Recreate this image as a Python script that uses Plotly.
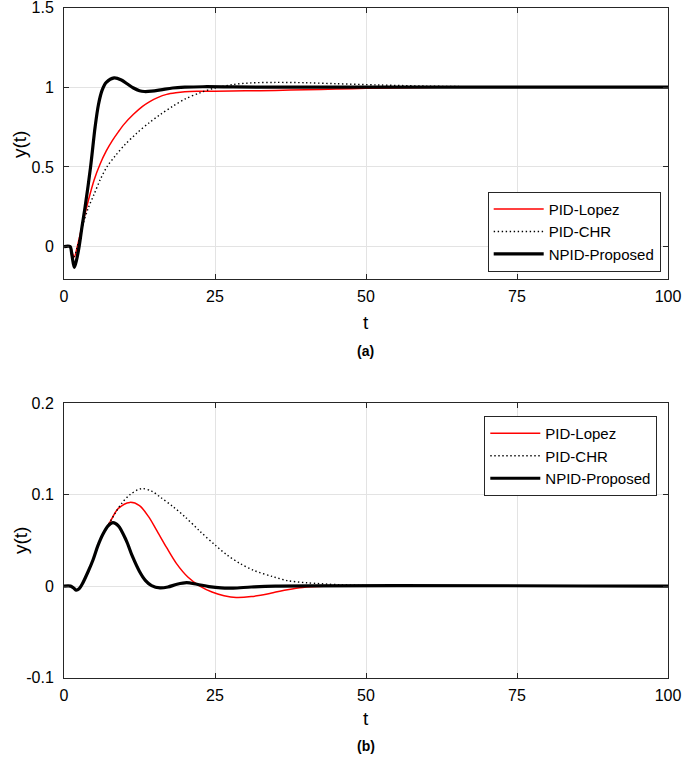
import plotly.graph_objects as go

# ---------------- Data (a): setpoint response ----------------
t_lopez_a = [0, 1.0, 1.3, 1.7, 2.2, 3.0, 4.0, 5.0, 6.0, 7.0, 8.0, 9.0, 10.0, 11.5, 13.0, 14.2, 15.5, 17.0, 18.5, 20.0, 22.0, 25, 30, 35, 40, 45, 50, 56, 62, 70, 100]
y_lopez_a = [0, 0, -0.03, -0.065, 0, 0.13, 0.285, 0.42, 0.52, 0.60, 0.665, 0.72, 0.77, 0.83, 0.88, 0.91, 0.935, 0.955, 0.965, 0.971, 0.974, 0.975, 0.977, 0.98, 0.984, 0.988, 0.993, 0.997, 0.999, 1.0, 1.0]

t_chr_a = [0, 1.0, 1.3, 1.7, 2.2, 3.0, 4.0, 5.0, 6.0, 7.1, 8.5, 10.1, 12.0, 14.2, 16.0, 18.0, 20.0, 22.5, 25.0, 28.0, 31.0, 35.0, 40.0, 45.0, 52.0, 60.0, 70.0, 80.0, 100]
y_chr_a = [0, 0, -0.03, -0.06, 0, 0.12, 0.24, 0.33, 0.42, 0.5, 0.57, 0.64, 0.71, 0.78, 0.83, 0.88, 0.925, 0.965, 0.995, 1.017, 1.027, 1.03, 1.028, 1.022, 1.014, 1.007, 1.002, 1.0, 1.0]

t_npid_a = [0, 1.0, 1.3, 1.7, 2.1, 2.5, 3.0, 3.5, 4.4, 5.15, 5.7, 6.3, 7.0, 8.3, 9.5, 10.5, 11.5, 12.5, 13.3, 14.5, 16, 18, 20, 23, 28, 35, 100]
y_npid_a = [0, 0, -0.05, -0.13, -0.08, 0, 0.13, 0.25, 0.5, 0.75, 0.89, 0.98, 1.03, 1.058, 1.045, 1.02, 0.995, 0.978, 0.973, 0.975, 0.983, 0.995, 1.0, 1.003, 1.002, 1.0, 1.0]

# ---------------- Data (b): disturbance response ----------------
t_lopez_b = [0, 1.1, 1.6, 2.0, 2.5, 3.0, 4.0, 4.8, 5.6, 6.46, 7.6, 9.0, 10.9, 12.5, 14.0, 15.3, 17.0, 18.6, 20.5, 22.5, 24.5, 26.5, 28.5, 31.0, 34.6, 37.0, 39.5, 43.0, 48.0, 100]
y_lopez_b = [0, 0, -0.002, -0.0044, -0.003, 0.002, 0.016, 0.0286, 0.044, 0.057, 0.07, 0.085, 0.0916, 0.088, 0.076, 0.0615, 0.042, 0.0249, 0.01, 0.0, -0.0065, -0.0105, -0.0125, -0.0115, -0.0073, -0.004, -0.0015, -0.0003, 0, 0]

t_chr_b = [0, 1.1, 1.6, 2.0, 2.5, 3.0, 4.0, 4.8, 5.6, 6.46, 7.6, 8.4, 9.5, 10.9, 12.8, 14.5, 16.0, 18.0, 20.0, 22.5, 25.0, 27.0, 29.1, 31.5, 34.6, 37.0, 40.1, 45.6, 52.0, 60.0, 100]
y_chr_b = [0, 0, -0.002, -0.0044, -0.003, 0.002, 0.016, 0.0286, 0.044, 0.057, 0.07, 0.079, 0.09, 0.1, 0.1066, 0.104, 0.097, 0.0872, 0.076, 0.06, 0.045, 0.034, 0.0249, 0.017, 0.0103, 0.006, 0.0037, 0.0015, 0.0003, 0, 0]

t_npid_b = [0, 1.1, 1.6, 2.0, 2.5, 3.0, 4.0, 4.8, 5.6, 6.46, 7.3, 8.1, 9.0, 10.3, 11.3, 12.5, 13.5, 14.5, 15.9, 17.2, 18.7, 20.3, 22.0, 24.0, 26.0, 28.0, 31.0, 35.0, 100]
y_npid_b = [0, 0, -0.002, -0.0044, -0.003, 0.002, 0.016, 0.0286, 0.044, 0.057, 0.066, 0.0695, 0.066, 0.05, 0.033, 0.016, 0.006, 0.0005, -0.002, -0.001, 0.002, 0.0037, 0.002, -0.0005, -0.002, -0.0022, -0.001, 0.0, 0]

names = ["PID-Lopez", "PID-CHR", "NPID-Proposed"]

FONT = "Liberation Sans, Arial, sans-serif"
AXC = "#262626"

fig = go.Figure()

styles = [dict(color="#ff0000", width=1.5),
          dict(color="#000000", width=1.4, dash="1.4px,2.6px"),
          dict(color="#000000", width=3.2)]

for (tx, ty), st, nm in zip([(t_lopez_a, y_lopez_a), (t_chr_a, y_chr_a), (t_npid_a, y_npid_a)], styles, names):
    fig.add_trace(go.Scatter(x=tx, y=ty, mode="lines", name=nm, line=dict(shape="spline", smoothing=0.9, **st),
                             xaxis="x", yaxis="y", legend="legend"))
for (tx, ty), st, nm in zip([(t_lopez_b, y_lopez_b), (t_chr_b, y_chr_b), (t_npid_b, y_npid_b)], styles, names):
    fig.add_trace(go.Scatter(x=tx, y=ty, mode="lines", name=nm, line=dict(shape="spline", smoothing=0.9, **st),
                             xaxis="x2", yaxis="y2", legend="legend2"))

W, H = 685, 759
xdom = [64 / W, 668 / W]

def xax(anchor):
    return dict(domain=xdom, range=[0, 100], tickvals=[0, 25, 50, 75, 100], anchor=anchor,
                showline=True, linecolor=AXC, linewidth=1, mirror="ticks", ticks="inside",
                ticklen=5, tickcolor=AXC, showgrid=True, gridcolor="#e3e3e3", gridwidth=1,
                zeroline=False, tickfont=dict(family=FONT, size=16, color="#000"),
                ticklabelstandoff=3, automargin=False, ticklabeloverflow="allow")

def yax(anchor, dom, rng, vals, txt):
    return dict(domain=dom, range=rng, tickvals=vals, ticktext=txt, anchor=anchor,
                showline=True, linecolor=AXC, linewidth=1, mirror="ticks", ticks="inside",
                ticklen=5, tickcolor=AXC, showgrid=True, gridcolor="#e3e3e3", gridwidth=1,
                zeroline=False, tickfont=dict(family=FONT, size=16, color="#000"),
                ticklabelstandoff=6, automargin=False, ticklabeloverflow="allow")

legend_common = dict(bgcolor="white", bordercolor=AXC, borderwidth=1,
                     font=dict(family=FONT, size=15, color="#000"), itemwidth=50,
                     tracegroupgap=0, xref="paper", yref="paper")

fig.update_layout(
    width=W, height=H, margin=dict(l=0, r=0, t=0, b=0, autoexpand=False),
    paper_bgcolor="white", plot_bgcolor="white",
    xaxis=xax("y"),
    yaxis=yax("x", [1 - 278.5 / H, 1 - 7.5 / H], [-0.2, 1.5], [0, 0.5, 1, 1.5], ["0", "0.5", "1", "1.5"]),
    xaxis2=xax("y2"),
    yaxis2=yax("x2", [1 - 677.5 / H, 1 - 403.3 / H], [-0.1, 0.2], [-0.1, 0, 0.1, 0.2], ["-0.1", "0", "0.1", "0.2"]),
    legend=dict(x=660.7 / W, y=1 - 271.7 / H, xanchor="right", yanchor="bottom", **legend_common),
    legend2=dict(x=657.3 / W, y=1 - 416 / H, xanchor="right", yanchor="top", **legend_common),
    showlegend=True,
)

TXT = dict(family=FONT, color="#000")
annots = [
    dict(text="y(t)", x=20 / W, y=1 - 145 / H, textangle=-90, font=dict(size=19, **TXT)),
    dict(text="t", x=366 / W, y=1 - 322 / H, font=dict(size=19, **TXT)),
    dict(text="<b>(a)</b>", x=366 / W, y=1 - 351 / H, font=dict(size=14, **TXT)),
    dict(text="y(t)", x=20 / W, y=1 - 541 / H, textangle=-90, font=dict(size=19, **TXT)),
    dict(text="t", x=366 / W, y=1 - 718 / H, font=dict(size=19, **TXT)),
    dict(text="<b>(b)</b>", x=366 / W, y=1 - 746 / H, font=dict(size=14, **TXT)),
]
for a in annots:
    fig.add_annotation(xref="paper", yref="paper", showarrow=False, xanchor="center", yanchor="middle", **a)

fig.write_html("out.html", config={"displayModeBar": False},
               post_script="document.body.style.margin='0px';document.body.style.overflow='hidden';")
